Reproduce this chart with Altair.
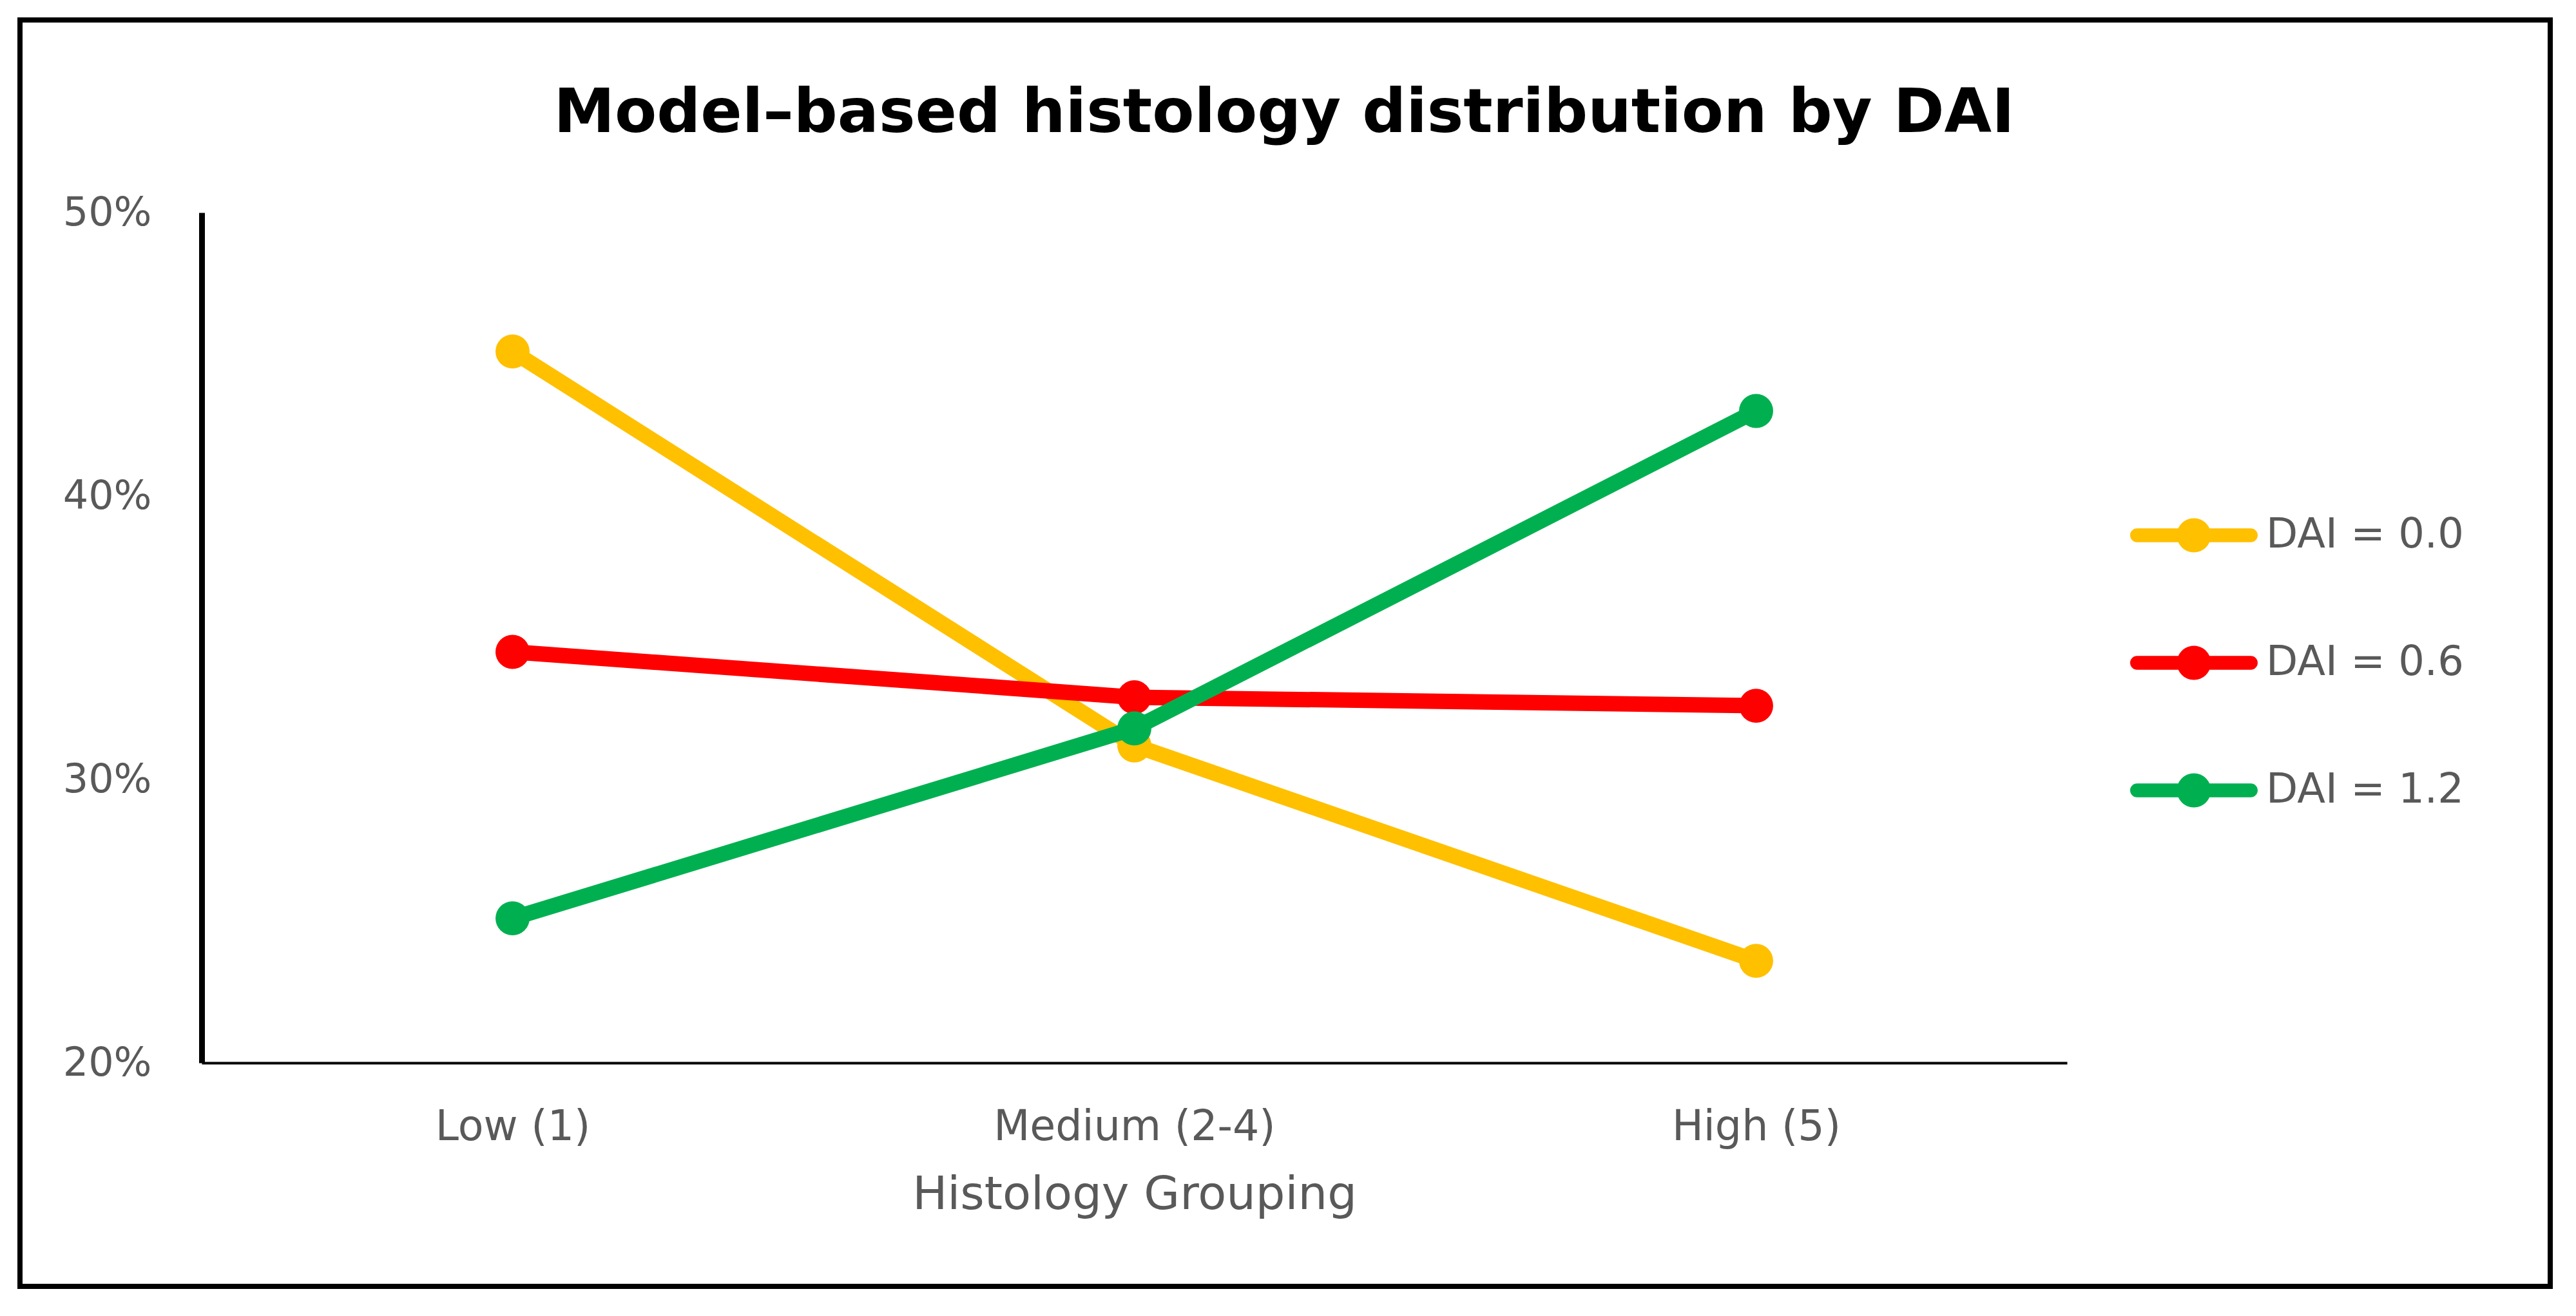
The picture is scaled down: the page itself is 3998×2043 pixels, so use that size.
import altair as alt
import pandas as pd

categories = ["Low (1)", "Medium (2-4)", "High (5)"]
series = ["DAI = 0.0", "DAI = 0.6", "DAI = 1.2"]
dai_00 = [0.451, 0.312, 0.236]
dai_06 = [0.345, 0.329, 0.326]
dai_12 = [0.251, 0.318, 0.430]
colors = ["#FFC000", "#FF0000", "#00B050"]
title_text = "Model–based histology distribution by DAI"

rows = []
for s, vals in zip(series, [dai_00, dai_06, dai_12]):
    for c, v in zip(categories, vals):
        rows.append({"group": c, "series": s, "value": v})
df = pd.DataFrame(rows)

FONT = "DejaVu Sans"
GRAY = "#595959"

legend_path = ("M-0.9,-0.11 H0.9 A0.11,0.11 0 0 1 0.9,0.11 H-0.9 A0.11,0.11 0 0 1 -0.9,-0.11 Z "
               "M0.27,0 A0.27,0.27 0 1 1 -0.27,0 A0.27,0.27 0 1 1 0.27,0 Z")

x_enc = alt.X("group:N", sort=categories,
              scale=alt.Scale(type="point", padding=0.5),
              axis=alt.Axis(title="Histology Grouping", labelAngle=0, ticks=False,
                            labelPadding=99, labelBaseline="middle", labelLimit=0,
                            labelFontSize=65,
                            domainColor="black", domainWidth=4,
                            titleY=204, titleBaseline="middle"))
y_enc = alt.Y("value:Q",
              scale=alt.Scale(domain=[0.2, 0.5], nice=False, zero=False),
              axis=alt.Axis(title=None, format=".0%", values=[0.2, 0.3, 0.4, 0.5],
                            ticks=False, labelPadding=78, grid=False, labelLimit=0,
                            domainColor="black", domainWidth=9))
color_scale = alt.Scale(domain=series, range=colors)
legend = alt.Legend(title=None, orient="none", legendX=2994, legendY=403,
                    symbolType=legend_path, symbolSize=38416,
                    symbolStrokeWidth=0, symbolOpacity=1,
                    labelFont=FONT, labelFontSize=64, labelLimit=0,
                    labelColor=GRAY, labelOffset=14,
                    rowPadding=68, padding=0)

layers = []
for s in series:
    base = alt.Chart(df).transform_filter(alt.datum.series == s)
    line = base.mark_line(strokeWidth=24, strokeCap="round").encode(
        x=x_enc, y=y_enc,
        color=alt.Color("series:N", scale=color_scale, sort=series, legend=legend))
    pts = base.mark_point(filled=True, size=2800, opacity=1).encode(
        x=x_enc, y=y_enc,
        color=alt.Color("series:N", scale=color_scale, sort=series, legend=legend))
    layers += [line, pts]

one = pd.DataFrame({"t": [title_text]})
border = alt.Chart(one).mark_rect(
    filled=False, stroke="black", strokeWidth=8).encode(
    x=alt.value(-282), x2=alt.value(3645), y=alt.value(-299), y2=alt.value(1667))
title = alt.Chart(one).mark_text(
    font=FONT, fontSize=95, fontWeight="bold", color="black",
    align="center", baseline="alphabetic").encode(
    text="t:N", x=alt.value(1680), y=alt.value(-125))

chart = alt.layer(*layers, border, title).properties(
    width=2895, height=1320,
    background="white",
    autosize=alt.AutoSizeParams(type="none"),
    padding={"left": 305, "top": 322, "right": 782, "bottom": 380},
).configure_view(stroke=None).configure_axis(
    labelFont=FONT, labelFontSize=62, labelColor=GRAY,
    titleFont=FONT, titleFontSize=72, titleColor=GRAY, titleFontWeight="normal",
)

chart.save("out.html", embed_options={"renderer": "svg", "actions": False})
